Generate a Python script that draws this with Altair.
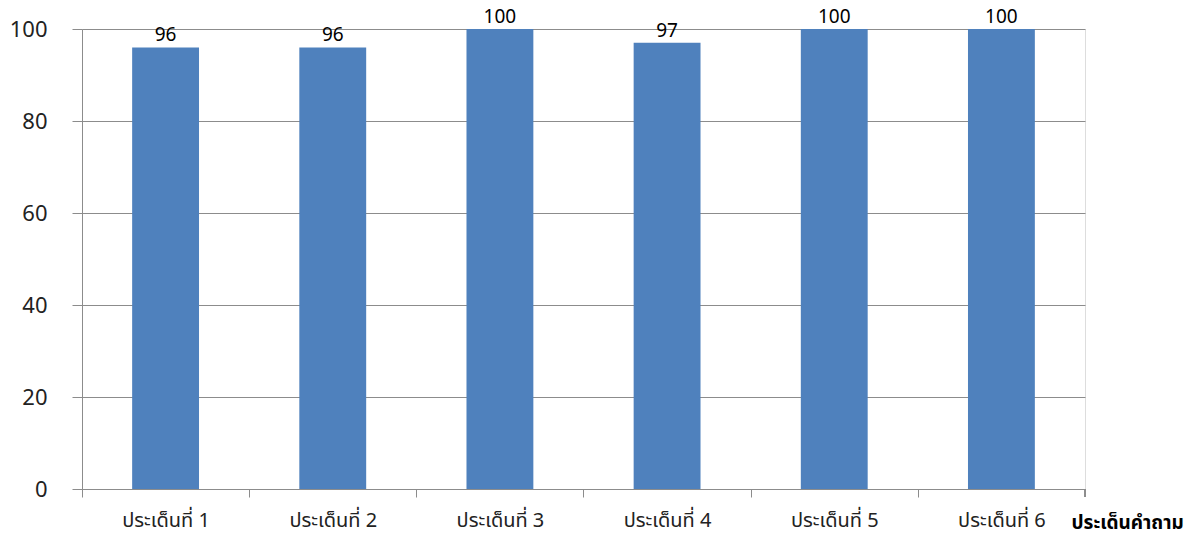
import altair as alt
import pandas as pd

categories = ["ประเด็นที่ 1", "ประเด็นที่ 2", "ประเด็นที่ 3", "ประเด็นที่ 4", "ประเด็นที่ 5", "ประเด็นที่ 6"]
values = [96, 96, 100, 97, 100, 100]
y_ticks = [0, 20, 40, 60, 80, 100]
x_title = "ประเด็นคำถาม"

df = pd.DataFrame({"cat": categories, "val": values})

W, H = 1003, 460
STEP = W / len(categories)
FONT = "Tahoma, 'Noto Sans Thai', 'Leelawadee UI', 'Open Sans', sans-serif"
GRID = "#8c8c8c"

base = alt.Chart(df)

bars = base.mark_bar(color="#4F81BD").encode(
    x=alt.X(
        "cat:N",
        sort=categories,
        scale=alt.Scale(paddingInner=0.6, paddingOuter=0.3),
        axis=alt.Axis(
            title=x_title,
            titleFont=FONT,
            titleFontSize=19,
            titleFontWeight="bold",
            titleColor="#000000",
            titleAlign="left",
            titleBaseline="middle",
            titleAnchor="start",
            titleX=989,
            titleY=33,
            labelAngle=0,
            labelFont=FONT,
            labelFontSize=20,
            labelColor="#222222",
            labelPadding=13,
            tickOffset=-STEP / 2,
            labelOffset=STEP / 2,
            bandPosition=0.5,
            tickSize=8,
            tickColor=GRID,
            domainColor=GRID,
            grid=False,
        ),
    ),
    y=alt.Y(
        "val:Q",
        scale=alt.Scale(domain=[0, 100], nice=False),
        axis=alt.Axis(
            title=None,
            values=y_ticks,
            labelFont=FONT,
            labelFontSize=22,
            labelColor="#222222",
            labelPadding=25,
            tickSize=10,
            tickColor=GRID,
            domainColor=GRID,
            gridColor=GRID,
            grid=True,
        ),
    ),
)

labels = base.mark_text(
    baseline="bottom", dy=-2, fontSize=19, font=FONT, color="#000000"
).encode(
    x=alt.X("cat:N", sort=categories),
    y="val:Q",
    text="val:Q",
)

end_tick = alt.Chart(df).mark_rule(color=GRID).encode(
    x=alt.value(W), y=alt.value(H), y2=alt.value(H + 8)
)

chart = (
    alt.layer(bars, labels, end_tick)
    .properties(
        width=W,
        height=H,
        autosize=alt.AutoSizeParams(type="none"),
        padding={"left": 74, "top": 21, "right": 107, "bottom": 42},
    )
    .configure_view(stroke=None)
    .configure(background="white")
)

chart.save("out.html", embed_options={"renderer": "svg", "actions": False})
